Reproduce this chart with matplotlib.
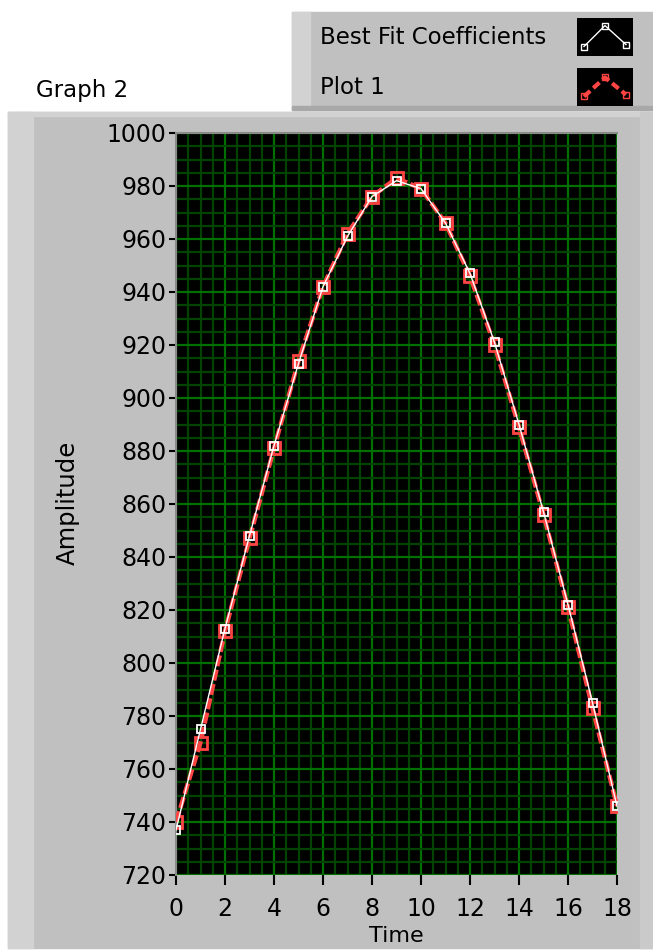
import matplotlib
matplotlib.use('Agg')
import matplotlib.pyplot as plt
from matplotlib.patches import Rectangle

time = list(range(19))
plot1 = [740, 770, 812, 847, 881, 914, 942, 962, 976, 983,
         979, 966, 946, 920, 889, 856, 821, 783, 746]
best_fit = [737, 775, 813, 848, 882, 913, 942, 961, 976, 982,
            979, 966, 947, 921, 890, 857, 822, 785, 746]
y_ticks = list(range(720, 1001, 20))
x_ticks = list(range(0, 19, 2))
legend_labels = ['Best Fit Coefficients', 'Plot 1']

W, H = 653, 950
panel = '#c0c0c0'
light = '#d2d2d2'
red = '#ff4444'

fig = plt.figure(figsize=(W / 100, H / 100), dpi=100)
fig.patch.set_facecolor('white')


def box(x, y, w, h, color):
    # rectangle in pixel coords, y measured from top
    fig.patches.append(Rectangle((x / W, 1 - (y + h) / H), w / W, h / H,
                                 transform=fig.transFigure, color=color,
                                 zorder=-5))


# graph panel
box(8, 112, 645, 836, panel)
box(8, 112, 25, 836, light)
box(8, 112, 645, 4, light)
box(640, 112, 13, 836, '#cacaca')

# legend panel
box(292, 12, 361, 98, panel)
box(292, 12, 18, 98, light)
box(292, 106, 361, 4, '#a8a8a8')

fig.text(36 / W, 1 - 90 / H, 'Graph 2', fontsize=16.5, va='center', ha='left')

ax = fig.add_axes([176 / W, 1 - 875 / H, 441 / W, 742 / H])
ax.set_facecolor('black')
ax.plot(time, plot1, color=red, lw=3.2, ls=(0, (2.5, 0.8)), marker='s',
        ms=9, mfc='none', mec=red, mew=2, zorder=3)
ax.plot(time, best_fit, color='white', lw=1.0, marker='s', ms=5.5,
        mfc='none', mec='white', mew=1.3, zorder=4)

ax.set_xlim(0, 18)
ax.set_ylim(720, 1000)
ax.set_xticks(x_ticks)
ax.set_yticks(y_ticks)
ax.set_xticks([v / 2 for v in range(37)], minor=True)
ax.set_yticks(list(range(720, 1001, 5)), minor=True)
ax.grid(which='major', color='#007000', lw=1.6)
ax.grid(which='minor', color='#004400', lw=1.6)
ax.set_axisbelow(True)

for side in ['top', 'left']:
    ax.spines[side].set_color('#8a8a8a')
    ax.spines[side].set_linewidth(1.5)
for side in ['right', 'bottom']:
    ax.spines[side].set_visible(False)

ax.tick_params(which='minor', length=0)
ax.tick_params(which='major', direction='out', length=5, width=1.5,
               color='black', labelsize=17, pad=2)
ax.tick_params(axis='x', which='major', pad=9, length=7)

fig.text(68 / W, 1 - 503 / H, 'Amplitude', fontsize=17.5, rotation=90,
         va='center', ha='center')
fig.text(396 / W, 1 - 936 / H, 'Time', fontsize=16, va='center', ha='center')

# legend rows
for i, label in enumerate(legend_labels):
    cy = 37 + i * 50
    fig.text(320 / W, 1 - cy / H, label, fontsize=16.5, va='center', ha='left')
    icon = fig.add_axes([577 / W, 1 - (cy + 19) / H, 56 / W, 38 / H])
    icon.set_facecolor('black')
    icon.set_xticks([])
    icon.set_yticks([])
    for s in icon.spines.values():
        s.set_visible(False)
    icon.set_xlim(0, 4)
    icon.set_ylim(0, 4)
    if i == 0:
        icon.plot([0.5, 2, 3.5], [1, 3.2, 1.2], color='white', lw=1,
                  marker='s', ms=4, mfc='none', mec='white')
    else:
        icon.plot([0.5, 2, 3.5], [1, 3, 1.2], color=red, lw=3,
                  ls=(0, (2, 1)), marker='s', ms=5, mfc='none', mec=red)

fig.savefig('out.png', dpi=100)
